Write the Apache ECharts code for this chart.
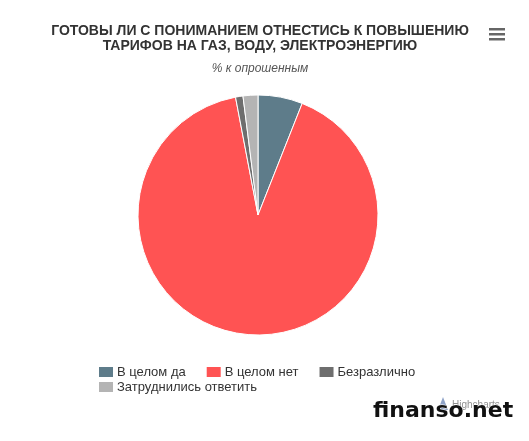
<!DOCTYPE html>
<html>
<head>
<meta charset="utf-8">
<script src="https://cdn.jsdelivr.net/npm/echarts@6/dist/echarts.min.js"></script>
<style>
  html, body { margin: 0; padding: 0; background: #fff; }
  #chart { width: 529px; height: 441px; }
</style>
</head>
<body>
<div id="chart"></div>
<script>
  // --- данные ---
  const categories = ['В целом да', 'В целом нет', 'Безразлично', 'Затруднились ответить']
  const values = [6, 91, 1, 2]
  const colors = ['#5e7c8a', '#ff5353', '#6e6e6e', '#b4b4b4']

  const chart = echarts.init(document.getElementById('chart'))

  const legendBase = {
    icon: 'rect', itemWidth: 16, itemHeight: 12, itemGap: 19,
    padding: 0, orient: 'horizontal',
    textStyle: { fontFamily: 'Liberation Sans', fontSize: 13, color: '#333', padding: [0, 0, 0, -2] }
  }

  const option = {
    backgroundColor: '#fff',
    animation: false,
    color: colors,
    title: [
      {
        text: 'ГОТОВЫ ЛИ С ПОНИМАНИЕМ ОТНЕСТИСЬ К ПОВЫШЕНИЮ\nТАРИФОВ НА ГАЗ, ВОДУ, ЭЛЕКТРОЭНЕРГИЮ',
        left: 255, top: 19, textAlign: 'center',
        textStyle: { fontFamily: 'Liberation Sans', fontSize: 14, fontWeight: 'bold', color: '#333', lineHeight: 15 }
      },
      {
        text: '% к опрошенным',
        left: 255, top: 58, textAlign: 'center',
        textStyle: { fontFamily: 'Liberation Sans', fontSize: 12, fontStyle: 'italic', fontWeight: 'normal', color: '#555' }
      }
    ],
    legend: [
      Object.assign({ data: categories.slice(0, 3), left: 97, top: 365 }, legendBase),
      Object.assign({ data: categories.slice(3), left: 97, top: 380 }, legendBase)
    ],
    series: [{
      type: 'pie',
      center: [258, 215],
      radius: 120,
      startAngle: 90,
      clockwise: true,
      label: { show: false },
      labelLine: { show: false },
      itemStyle: { borderColor: '#fff', borderWidth: 1 },
      emphasis: { disabled: true },
      data: categories.map((name, i) => ({ name, value: values[i] }))
    }],
    graphic: [
      // меню
      { type: 'rect', shape: { x: 489, y: 28, width: 16, height: 2.5 }, style: { fill: '#666' } },
      { type: 'rect', shape: { x: 489, y: 33, width: 16, height: 2.5 }, style: { fill: '#666' } },
      { type: 'rect', shape: { x: 489, y: 38, width: 16, height: 2.5 }, style: { fill: '#666' } },
      // credits
      { type: 'polygon', shape: { points: [[438, 410], [443, 397], [448, 410]] }, style: { fill: '#8fa3c8' } },
      { type: 'text', x: 452, y: 400, style: { text: 'Highcharts', font: '10px "Liberation Sans"', fill: '#909090' } },
      // watermark
      { type: 'text', x: 373, y: 400, z: 10, style: { text: 'finanso.net', font: 'bold 22px "DejaVu Sans"', fill: '#111', stroke: '#fff', lineWidth: 1 } }
    ]
  }

  chart.setOption(option)
</script>
</body>
</html>
